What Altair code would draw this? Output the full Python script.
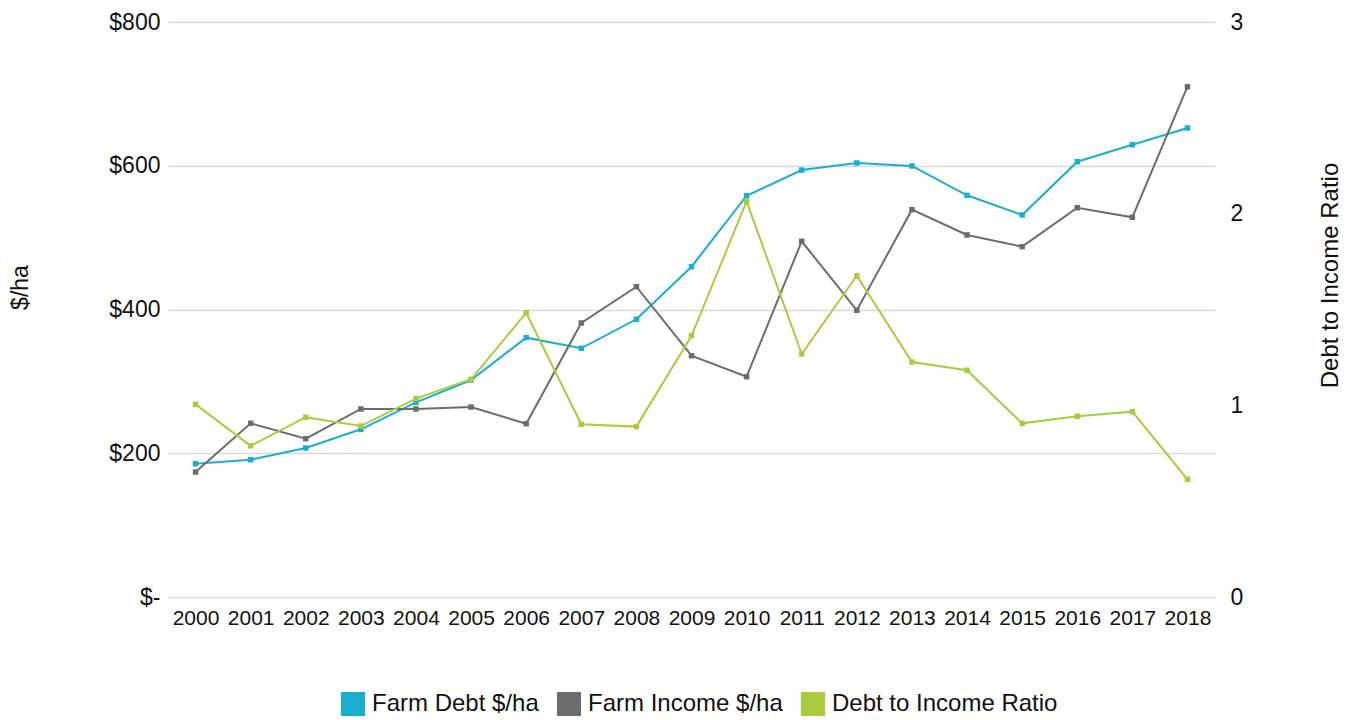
import altair as alt
import pandas as pd

years = [str(y) for y in range(2000, 2019)]
farm_debt = [185.5, 191, 207.3, 233.3, 270.9, 301.9, 360.8, 346, 386.4, 459.5,
             558.3, 594, 603.8, 599.7, 558.9, 531.5, 605.6, 629.3, 652.5]
farm_income = [173.9, 241.7, 220.2, 261.6, 261.6, 264.3, 241.1, 381.2, 431.7, 335.7,
               306.5, 494.9, 398.9, 538.9, 503.7, 487.4, 541.6, 528.3, 710]
ratio = [1.005, 0.789, 0.938, 0.892, 1.035, 1.136, 1.483, 0.901, 0.889, 1.363,
         2.064, 1.268, 1.676, 1.226, 1.183, 0.906, 0.943, 0.967, 0.614]

series_names = ["Farm Debt $/ha", "Farm Income $/ha", "Debt to Income Ratio"]
series_colors = ["#1aaed0", "#6a6e6a", "#a9cb3e"]

money = pd.DataFrame(
    [{"year": y, "value": v, "series": series_names[0]} for y, v in zip(years, farm_debt)]
    + [{"year": y, "value": v, "series": series_names[1]} for y, v in zip(years, farm_income)]
)
ratio_df = pd.DataFrame(
    [{"year": y, "value": v, "series": series_names[2]} for y, v in zip(years, ratio)]
)

FONT = "Liberation Sans"

color = alt.Color(
    "series:N",
    scale=alt.Scale(domain=series_names, range=series_colors),
    sort=series_names,
    legend=alt.Legend(
        title=None, orient="none", direction="horizontal",
        legendX=173, legendY=670,
        symbolType="square", symbolSize=576, symbolStrokeWidth=0,
        symbolOpacity=1,
        labelFontSize=24, labelFont=FONT, labelColor="#111111",
        labelLimit=0,
        labelOffset=7, columnPadding=18, padding=0,
    ),
)

xenc = alt.X(
    "year:O", sort=years,
    axis=alt.Axis(title=None, labelAngle=0, ticks=False, domain=False, grid=False,
                  labelFontSize=21, labelFont=FONT, labelColor="#111111",
                  labelPadding=10),
)

point = alt.OverlayMarkDef(shape="square", size=30, filled=True, opacity=1)

left = alt.Chart(money).mark_line(strokeWidth=2, point=point).encode(
    x=xenc,
    y=alt.Y("value:Q",
            scale=alt.Scale(domain=[0, 800], nice=False),
            axis=alt.Axis(
                title="$/ha", values=[0, 200, 400, 600, 800],
                labelExpr="datum.value == 0 ? '$-' : '$' + datum.value",
                ticks=False, domain=False, grid=True, gridColor="#d9d9d9",
                gridWidth=1.5,
                labelFontSize=23, labelFont=FONT, labelColor="#111111",
                labelPadding=8,
                titleFontSize=23, titleFont=FONT, titleFontWeight="normal",
                titleColor="#111111", titleAngle=270, titleBaseline="middle",
                titleAlign="center", titleX=-148, titleY=265,
            )),
    color=color,
)

right = alt.Chart(ratio_df).mark_line(strokeWidth=2, point=point).encode(
    x=xenc,
    y=alt.Y("value:Q",
            scale=alt.Scale(domain=[0, 3], nice=False),
            axis=alt.Axis(
                title="Debt to Income Ratio", orient="right", values=[0, 1, 2, 3],
                ticks=False, domain=False, grid=False,
                labelFontSize=23, labelFont=FONT, labelColor="#111111",
                labelPadding=15,
                titleFontSize=24, titleFont=FONT, titleFontWeight="normal",
                titleColor="#111111", titleAngle=270, titleBaseline="middle",
                titleAlign="center", titleX=115, titleY=253,
            )),
    color=color,
)

chart = (
    alt.layer(left, right)
    .resolve_scale(y="independent")
    .properties(
        width=1047, height=575,
        autosize=alt.AutoSizeParams(type="none"),
        padding={"left": 168, "top": 22, "right": 139, "bottom": 123},
        background="white",
    )
    .configure_view(stroke=None)
)

chart.save("out.html", embed_options={"renderer": "svg", "actions": False})
